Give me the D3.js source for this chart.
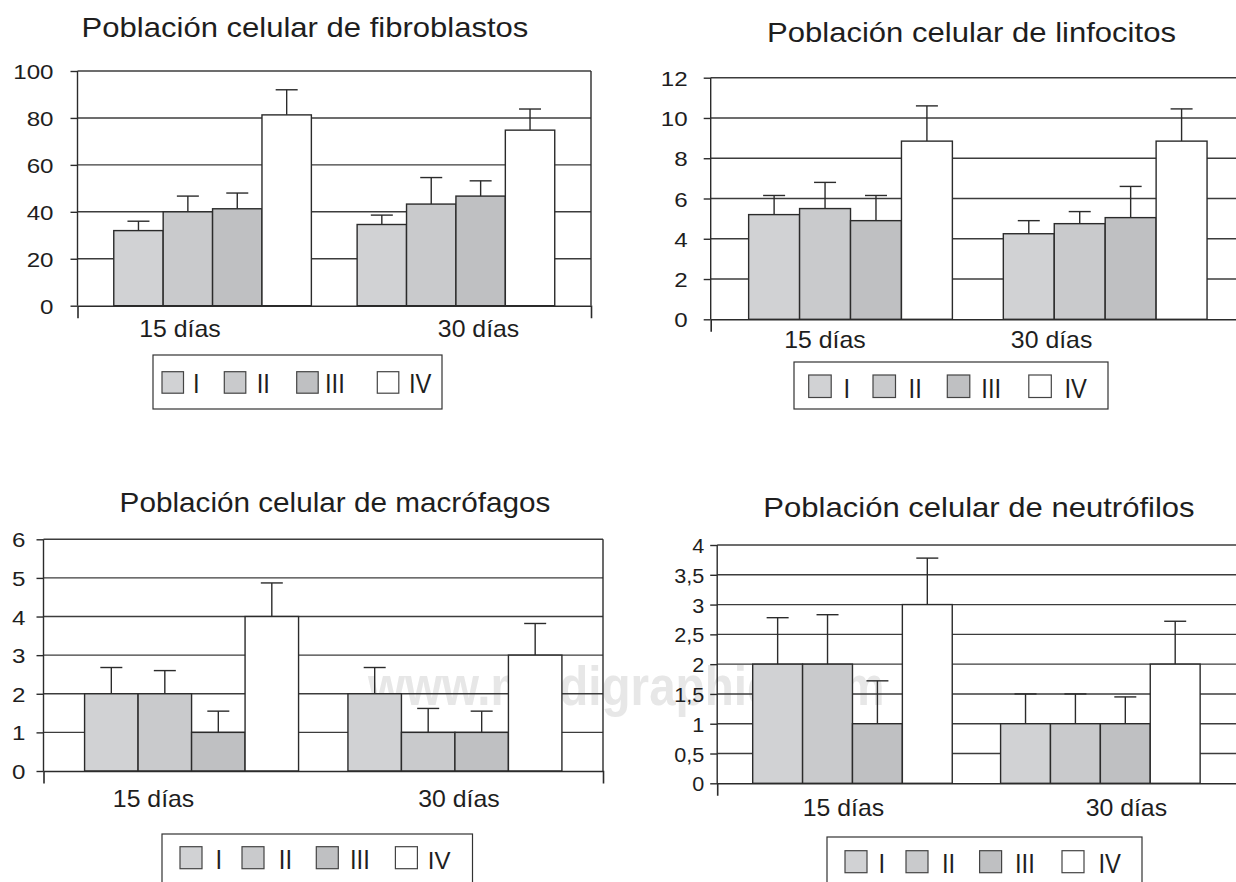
<!DOCTYPE html>
<html>
<head>
<meta charset="utf-8">
<script src="https://cdn.jsdelivr.net/npm/d3@7"></script>
<style>
  body { margin: 0; background: #fff; }
  svg { display: block; }
  text { font-family: "Liberation Sans", Arial, sans-serif; fill: #1e1e1e; }
</style>
</head>
<body>
<svg id="canvas"></svg>
<script>
const width = 1236, height = 882;

/* data */
const groups = ["15 días", "30 días"];
const series = ["I", "II", "III", "IV"];
const seriesFill = ["#d1d2d4", "#c9cacc", "#bfc0c2", "#ffffff"];

const fibroMean = [[32, 40, 41.3, 81.3], [34.6, 43.3, 46.7, 74.8]];
const fibroSd   = [[4, 6.7, 6.7, 10.7], [4, 11.3, 6.5, 9]];
const fibroTicks = [0, 20, 40, 60, 80, 100];

const linfoMean = [[5.2, 5.5, 4.9, 8.85], [4.25, 4.75, 5.05, 8.85]];
const linfoSd   = [[0.95, 1.3, 1.25, 1.75], [0.65, 0.6, 1.55, 1.6]];
const linfoTicks = [0, 2, 4, 6, 8, 10, 12];

const macroMean = [[2, 2, 1, 4], [2, 1, 1, 3]];
const macroSd   = [[0.68, 0.6, 0.55, 0.87], [0.68, 0.62, 0.55, 0.82]];
const macroTicks = [0, 1, 2, 3, 4, 5, 6];

const neutroMean = [[2, 2, 1, 3], [1, 1, 1, 2]];
const neutroSd   = [[0.78, 0.83, 0.72, 0.78], [0.5, 0.5, 0.45, 0.72]];
const neutroTicks = [0, 0.5, 1, 1.5, 2, 2.5, 3, 3.5, 4];

/* styles */
const ink = "#2b2b2b";
const gridInk = "#3c3c3c";
const comma = d => String(d).replace(".", ",");

/* layout of the four panels */
const panels = [
  { title: "Población celular de fibroblastos", mean: fibroMean, sd: fibroSd, ticks: fibroTicks,
    left: 77.5, right: 591, top: 71, bottom: 305.7, pin: 0.188, pout: 0.149, align: 0.5, border: true,
    tickGap: 24, tickSx: 1.15, labelDx: [-32.6, 22.6], labelDy: 31, titleX: 305, titleY: 37, titleSx: 1.15,
    legend: { x: 153, y: 355, w: 289, h: 54, sw: [162, 224.3, 296.7, 377.3], lx: [193, 256.7, 325, 409], sy: 371.7, size: 21.5 } },
  { title: "Población celular de linfocitos", mean: linfoMean, sd: linfoSd, ticks: linfoTicks,
    left: 710.7, right: 1245, top: 77.7, bottom: 319.3, pin: 0.2, pout: 0.149, align: 0.5, border: false,
    tickGap: 23, tickSx: 1.15, labelDx: [-25.5, -53.6], labelDy: 29, titleX: 971.5, titleY: 42, titleSx: 1.15,
    legend: { x: 794, y: 362, w: 314, h: 47, sw: [808.7, 873, 947.3, 1028.8], lx: [843.5, 908.6, 981.3, 1064.4], sy: 375, size: 22.5 } },
  { title: "Población celular de macrófagos", mean: macroMean, sd: macroSd, ticks: macroTicks,
    left: 43.5, right: 603, top: 539.3, bottom: 771, pin: 0.1875, pout: 0.156, align: 0.5, border: true,
    tickGap: 18, tickSx: 1.15, labelDx: [-38, 4], labelDy: 36, titleX: 335, titleY: 512, titleSx: 1.1,
    legend: { x: 162, y: 834, w: 310.5, h: 60, sw: [180, 242, 316.3, 395.4], lx: [215.5, 278.8, 350, 427.8], sy: 846.7, size: 22 } },
  { title: "Población celular de neutrófilos", mean: neutroMean, sd: neutroSd, ticks: neutroTicks,
    left: 717.2, right: 1240, top: 545, bottom: 783.3, pin: 0.195, pout: 0.152, align: 0.471, border: false,
    tickGap: 13, tickSx: 1.03, labelDx: [-9, 26], labelDy: 33, titleX: 979, titleY: 517, titleSx: 1.15,
    legend: { x: 827, y: 837, w: 315, h: 60, sw: [845, 906, 979.6, 1062], lx: [878.6, 942, 1015, 1098.4], sy: 850.7, size: 22 } }
];

const svg = d3.select("#canvas")
    .attr("width", width)
    .attr("height", height)
    .style("background-color", "#fff");

/* watermark behind everything */
svg.append("text")
    .attr("transform", "translate(368,705) scale(0.85,1)")
    .attr("font-size", 56)
    .attr("font-weight", "bold")
    .style("fill", "#e7e7e7")
    .text("www.medigraphic.com");

function stretched(sel, x, y, sx) {
    return sel.attr("transform", `translate(${x},${y}) scale(${sx},1)`);
}

function drawPanel(p, pi) {
    const g = svg.append("g").classed("panel", true);

    const x0 = d3.scaleBand().domain(groups).range([p.left, p.right])
        .paddingInner(p.pin).paddingOuter(p.pout).align(p.align);
    const x1 = d3.scaleBand().domain(series).range([0, x0.bandwidth()]);
    const y = d3.scaleLinear().domain([0, d3.max(p.ticks)]).range([p.bottom, p.top]);

    /* gridlines */
    g.append("g").selectAll("line")
        .data(p.ticks.filter(v => v > 0))
        .join("line")
        .attr("x1", p.left).attr("x2", p.right)
        .attr("y1", d => y(d)).attr("y2", d => y(d))
        .attr("stroke", gridInk).attr("stroke-width", 1.4);

    if (p.border) {
        g.append("line")
            .attr("x1", p.right).attr("x2", p.right)
            .attr("y1", p.top).attr("y2", p.bottom)
            .attr("stroke", ink).attr("stroke-width", 1.4);
    }

    /* bars */
    const rows = groups.map((grp, gi) => series.map((s, si) => ({
        grp, s, si, v: p.mean[gi][si], e: p.sd[gi][si]
    }))).flat();

    const bars = g.append("g").selectAll("g").data(rows).join("g")
        .attr("transform", d => `translate(${x0(d.grp) + x1(d.s)},0)`);

    bars.append("line")
        .attr("x1", x1.bandwidth() / 2).attr("x2", x1.bandwidth() / 2)
        .attr("y1", d => y(d.v)).attr("y2", d => y(d.v + d.e))
        .attr("stroke", ink).attr("stroke-width", 1.4);
    bars.append("line")
        .attr("x1", x1.bandwidth() / 2 - 11).attr("x2", x1.bandwidth() / 2 + 11)
        .attr("y1", d => y(d.v + d.e)).attr("y2", d => y(d.v + d.e))
        .attr("stroke", ink).attr("stroke-width", 1.4);

    bars.append("rect")
        .attr("x", 0)
        .attr("y", d => y(d.v))
        .attr("width", x1.bandwidth())
        .attr("height", d => y(0) - y(d.v))
        .attr("fill", d => seriesFill[d.si])
        .attr("stroke", ink).attr("stroke-width", 1.4);

    /* y axis */
    const yAxis = g.append("g")
        .attr("transform", `translate(${p.left},0)`)
        .call(d3.axisLeft(y).tickValues(p.ticks).tickSize(7).tickFormat(comma))
        .attr("font-size", null).attr("font-family", null);
    yAxis.select(".domain").remove();
    yAxis.selectAll(".tick line").attr("stroke", ink).attr("stroke-width", 1.4);
    yAxis.selectAll(".tick text")
        .attr("x", -p.tickGap / p.tickSx)
        .attr("dy", "0.36em")
        .attr("transform", `scale(${p.tickSx},1)`)
        .attr("font-size", 21)
        .style("fill", "#1e1e1e");

    g.append("line")
        .attr("x1", p.left).attr("x2", p.left)
        .attr("y1", p.top).attr("y2", p.bottom)
        .attr("stroke", ink).attr("stroke-width", 1.4);

    /* category axis */
    const xAxis = g.append("g")
        .attr("transform", `translate(0,${p.bottom})`)
        .call(d3.axisBottom(x0).tickSize(0).tickSizeOuter(12.5))
        .attr("font-size", null).attr("font-family", null);
    xAxis.select(".domain").attr("stroke", ink).attr("stroke-width", 1.6);
    xAxis.selectAll(".tick text")
        .attr("x", (d, i) => p.labelDx[i] / 1.08)
        .attr("y", p.labelDy)
        .attr("dy", null)
        .attr("transform", "scale(1.08,1)")
        .attr("font-size", 23)
        .style("fill", "#1e1e1e");

    /* title */
    stretched(g.append("text"), p.titleX, p.titleY, p.titleSx)
        .attr("text-anchor", "middle")
        .attr("font-size", 27)
        .text(p.title);

    /* legend */
    const L = p.legend;
    g.append("rect")
        .attr("x", L.x).attr("y", L.y).attr("width", L.w).attr("height", L.h)
        .attr("fill", "#fff").attr("stroke", "#333").attr("stroke-width", 1.2);
    series.forEach((s, si) => {
        g.append("rect")
            .attr("x", L.sw[si]).attr("y", L.sy)
            .attr("width", L.size).attr("height", L.size)
            .attr("fill", seriesFill[si])
            .attr("stroke", "#444").attr("stroke-width", 1.2);
        const big = !(pi === 2 && si === 3);
        stretched(g.append("text"), L.lx[si], L.sy + L.size, big ? 0.85 : 1)
            .attr("font-size", big ? 28 : 24)
            .text(s);
    });
}

panels.forEach(drawPanel);
</script>
</body>
</html>
